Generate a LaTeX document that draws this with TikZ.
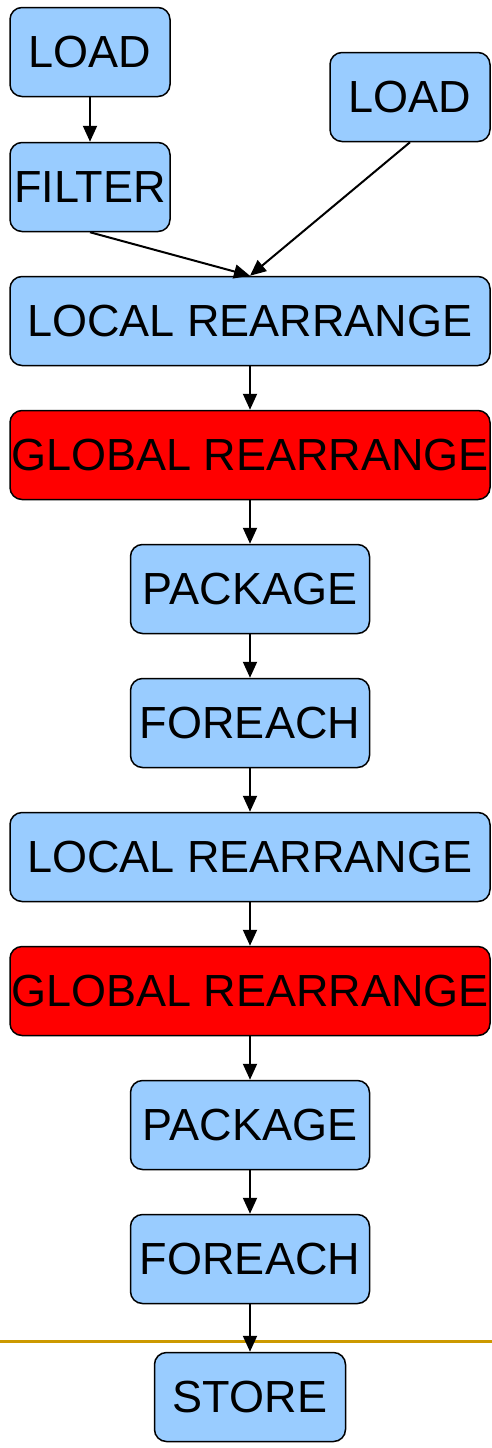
\documentclass[tikz,border=0pt]{standalone}
\usepackage{fontspec}
\setmainfont{Liberation Sans}
\usetikzlibrary{arrows.meta}

\definecolor{opblue}{HTML}{99CCFF}
\definecolor{opred}{HTML}{FF0000}
\definecolor{cutline}{HTML}{CC9900}

\begin{document}
\begin{tikzpicture}[x=1pt, y=-1pt,
    op/.style={draw, line width=1.5pt, rounded corners=12pt, fill=opblue,
      inner sep=0pt, minimum height=89pt, font=\fontsize{45}{50}\selectfont},
    shuffle/.style={op, fill=opred},
    flow/.style={line width=2pt, -{Triangle[length=16pt, width=14pt]}}]
  \useasboundingbox (0, 0) rectangle (492, 1448);

  % first job
  \node[op, minimum width=160pt] (load) at (90, 52) {LOAD};
  \node[op, minimum width=160pt] (filter) at (90, 187) {FILTER};
  \node[op, minimum width=160pt] (loadb) at (410, 97) {LOAD};
  \node[op, minimum width=480pt] (localr) at (250, 321) {LOCAL REARRANGE};
  \node[shuffle, minimum width=480pt] (globalr) at (250, 455) {GLOBAL REARRANGE};
  \node[op, minimum width=239pt] (pkg) at (250, 589) {PACKAGE};
  \node[op, minimum width=239pt] (each) at (250, 723) {FOREACH};

  % second job
  \node[op, minimum width=480pt] (localrb) at (250, 857) {LOCAL REARRANGE};
  \node[shuffle, minimum width=480pt] (globalrb) at (250, 991) {GLOBAL REARRANGE};
  \node[op, minimum width=239pt] (pkgb) at (250, 1125) {PACKAGE};
  \node[op, minimum width=239pt] (eachb) at (250, 1259) {FOREACH};
  \node[op, minimum width=191pt] (store) at (250, 1397) {STORE};

  \coordinate (cutl) at (0, 1341);
  \coordinate (cutr) at (492, 1341);
  \draw[cutline, line width=3pt] (cutl) -- (cutr);

  \draw[flow] (load) to (filter);
  \draw[flow] (filter.south) to (localr.north);
  \draw[flow] (loadb.south) to (localr.north);
  \draw[flow] (localr) to (globalr);
  \draw[flow] (globalr) to (pkg);
  \draw[flow] (pkg) to (each);
  \draw[flow] (each) to (localrb);
  \draw[flow] (localrb) to (globalrb);
  \draw[flow] (globalrb) to (pkgb);
  \draw[flow] (pkgb) to (eachb);
  \draw[flow] (eachb) to (store);
\end{tikzpicture}
\end{document}
